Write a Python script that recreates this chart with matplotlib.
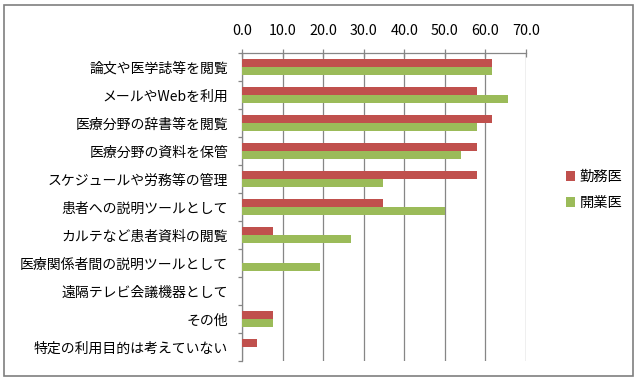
import matplotlib.pyplot as plt
import numpy as np
from matplotlib.patches import Rectangle

plt.rcParams['font.family'] = ['Noto Sans CJK JP', 'DejaVu Sans']

categories = ['論文や医学誌等を閲覧', 'メールやWebを利用', '医療分野の辞書等を閲覧',
              '医療分野の資料を保管', 'スケジュールや労務等の管理', '患者への説明ツールとして',
              'カルテなど患者資料の閲覧', '医療関係者間の説明ツールとして', '遠隔テレビ会議機器として',
              'その他', '特定の利用目的は考えていない']
kinmu = [61.7, 57.8, 61.7, 57.8, 57.8, 34.7, 7.6, 0.0, 0.0, 7.6, 3.8]
kaigyo = [61.7, 65.5, 57.8, 53.9, 34.7, 50.1, 26.9, 19.3, 0.0, 7.6, 0.0]
xticks = [0, 10, 20, 30, 40, 50, 60, 70]

red = '#C0504D'
green = '#9BBB59'

fig = plt.figure(figsize=(6.4, 3.82), dpi=100)
# outer chart border
fig.patches.append(Rectangle((4 / 640, 6 / 382), 629 / 640, 371 / 382,
                             transform=fig.transFigure, fill=False,
                             edgecolor='#7f7f7f', linewidth=1.2))

ax = fig.add_axes([242 / 640, 1 - 361 / 382, 284 / 640, 308 / 382])

y = np.arange(len(categories))
h = 0.275
ax.barh(y - h / 2, kinmu, height=h, color=red, label='勤務医', zorder=3)
ax.barh(y + h / 2, kaigyo, height=h, color=green, label='開業医', zorder=3)

ax.set_xlim(0, 70)
ax.set_ylim(len(categories) - 0.5, -0.5)
ax.set_xticks(xticks)
ax.set_xticklabels([f'{v:.1f}' for v in xticks])
ax.xaxis.tick_top()
ax.tick_params(axis='x', direction='inout', length=6, width=0.9, color='#868686',
               pad=8, labelsize=10.3)
ax.xaxis.grid(True, color='#868686', linewidth=0.9, zorder=0)

ax.set_yticks(y)
ax.set_yticklabels(categories)
ax.set_yticks(np.arange(len(categories) + 1) - 0.5, minor=True)
ax.tick_params(axis='y', which='major', length=0, pad=10, labelsize=10)
ax.tick_params(axis='y', which='minor', direction='out', length=3, width=0.9, color='#868686')

for s in ['right', 'bottom']:
    ax.spines[s].set_visible(False)
for s in ['top', 'left']:
    ax.spines[s].set_color('#868686')
    ax.spines[s].set_linewidth(0.9)

ax.legend(loc='center left', bbox_to_anchor=(553 / 640, 1 - 190 / 382),
          bbox_transform=fig.transFigure, frameon=False, fontsize=10.3,
          handlelength=0.65, handleheight=0.65, handletextpad=0.3, labelspacing=0.85)

fig.savefig('out.png', dpi=100)
